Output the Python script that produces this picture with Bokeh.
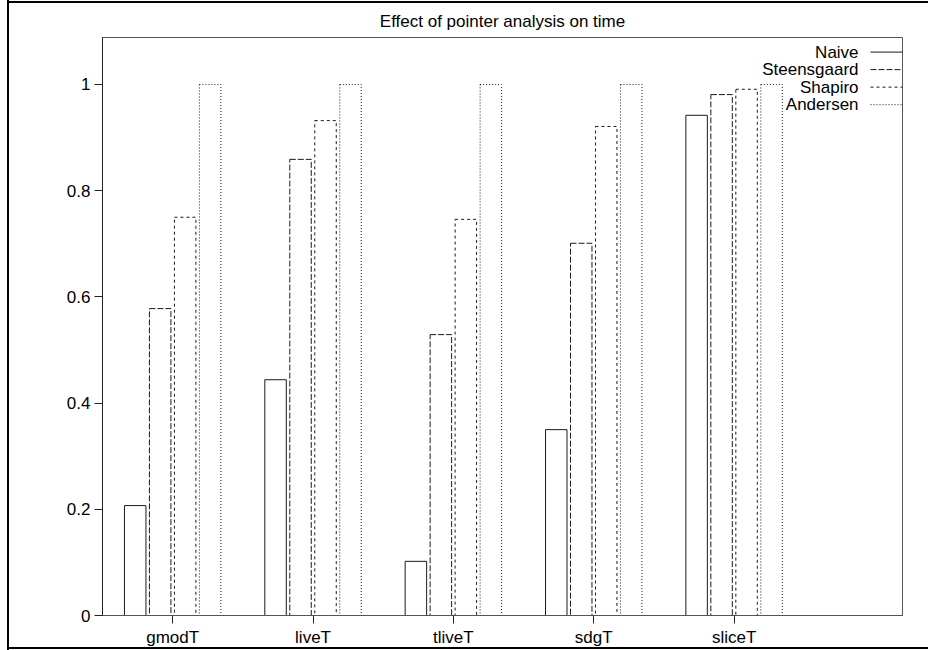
from bokeh.plotting import figure
from bokeh.models import Range1d, FixedTicker, ColumnDataSource
from bokeh.embed import file_html
from bokeh.resources import INLINE
from bokeh.core.properties import value

# ---- data ----
benchmarks = ["gmodT", "liveT", "tliveT", "sdgT", "sliceT"]
series = ["Naive", "Steensgaard", "Shapiro", "Andersen"]
naive = [0.207, 0.444, 0.102, 0.350, 0.942]
steensgaard = [0.578, 0.859, 0.529, 0.701, 0.981]
shapiro = [0.750, 0.932, 0.746, 0.921, 0.991]
andersen = [1.0, 1.0, 1.0, 1.0, 1.0]
y_ticks = [0, 0.2, 0.4, 0.6, 0.8, 1]
y_tick_labels = ["0", "0.2", "0.4", "0.6", "0.8", "1"]

# ---- styles ----
FONT = "Liberation Sans"
FS = "17px"
dashes = ["solid", "6 2", "3 3", "1 2"]
LC = "#1a1a1a"
step = 0.178
bar_w = 0.153

p = figure(width=928, height=650, output_backend="svg", toolbar_location=None,
           x_range=Range1d(-0.5, 5.2), y_range=Range1d(0, 1.0885),
           min_border_left=102, min_border_right=26, min_border_top=37,
           min_border_bottom=35, background_fill_color="white",
           border_fill_color=None)
# page frame (left, top and bottom edges of the original page)
p.styles = {
    "background-color": "white",
    "box-shadow": ("inset 7px 0 0 0 white, inset 9px 0 0 0 black, "
                   "inset 0 1px 0 0 white, inset 0 3px 0 0 black, "
                   "inset 0 -1px 0 0 white, inset 0 -3px 0 0 black"),
}
p.title.text = "Effect of pointer analysis on time"
p.title.align = "center"
p.title.text_font = FONT
p.title.text_font_size = FS
p.title.text_font_style = "normal"
p.title.text_color = "black"
p.title.standoff = 13
p.grid.visible = False
p.outline_line_color = "#555555"
p.outline_line_width = 1

values = [naive, steensgaard, shapiro, andersen]
for i, (name, vals) in enumerate(zip(series, values)):
    off = (i - 1.5) * step
    src = ColumnDataSource(dict(x=[k + off for k in range(len(benchmarks))], top=vals))
    p.vbar(x="x", top="top", width=bar_w, bottom=0, source=src,
           fill_color=None, line_color=LC, line_width=1, line_dash=dashes[i])

# legend (label left, sample right)
leg_y = [1.061, 1.028, 0.995, 0.962]
src_l = ColumnDataSource(dict(x=[4.887] * 4, y=leg_y, t=series))
p.text(x="x", y="y", text="t", source=src_l, text_align="right",
       text_baseline="middle", text_font=value(FONT), text_font_size=FS,
       text_color="black")
for i in range(4):
    p.segment(x0=[4.972], y0=[leg_y[i]], x1=[5.2], y1=[leg_y[i]],
              line_color=LC, line_width=1, line_dash=dashes[i])

# axes
p.xaxis.ticker = FixedTicker(ticks=list(range(len(benchmarks))))
p.xaxis.major_label_overrides = {i: b for i, b in enumerate(benchmarks)}
p.yaxis.ticker = FixedTicker(ticks=y_ticks)
p.yaxis.major_label_overrides = {t: l for t, l in zip(y_ticks, y_tick_labels)}
for ax in (p.xaxis, p.yaxis):
    ax.major_label_text_font = FONT
    ax.major_label_text_font_size = FS
    ax.major_label_text_color = "black"
    ax.major_tick_in = 0
    ax.major_tick_out = 8
    ax.minor_tick_line_color = None
    ax.major_tick_line_color = "#222222"
p.yaxis.axis_line_color = "#222222"
p.xaxis.axis_line_color = "#555555"
p.yaxis.major_label_standoff = 4
p.xaxis.major_label_standoff = 4

open("out.html", "w").write(file_html(p, INLINE))
